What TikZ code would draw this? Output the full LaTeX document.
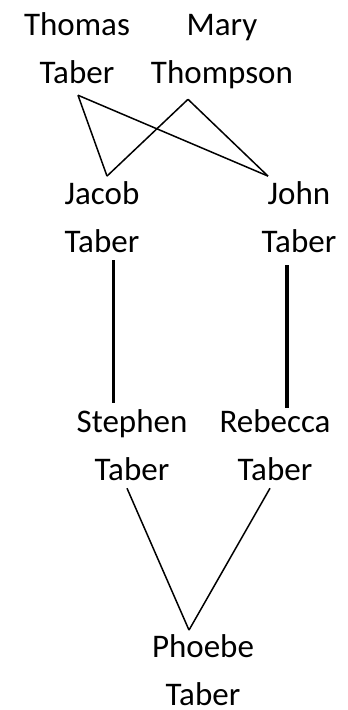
\documentclass[tikz,border=0pt]{standalone}
\usepackage{fontspec}
\setmainfont{Carlito}

\begin{document}
\begin{tikzpicture}[x=1pt,y=-1pt,
	person/.style={align=center,inner sep=0,outer sep=0,anchor=base,font=\fontsize{33}{48}\selectfont},
	link/.style={line width=1.5pt}]
	\useasboundingbox (0,0) rectangle (348,710);
	\node[person] (thomas) at (77,83) {Thomas\\Taber};
	\node[person] (mary) at (222,83) {Mary\\Thompson};
	\node[person] (jacob) at (102,252) {Jacob\\Taber};
	\node[person] (john) at (299,252) {John\\Taber};
	\node[person] (stephen) at (132,480) {Stephen\\Taber};
	\node[person] (rebecca) at (275,480) {Rebecca\\Taber};
	\node[person] (phoebe) at (203,705) {Phoebe\\Taber};
	\draw[link] ([shift={(1,12)}]thomas.south) -- ([shift={(5,-5)}]jacob.north);
	\draw[link] ([shift={(1,12)}]thomas.south) -- ([shift={(-31,-5)}]john.north);
	\draw[link] ([shift={(-34,11)}]mary.south) -- ([shift={(5,-5)}]jacob.north);
	\draw[link] ([shift={(-34,11)}]mary.south) -- ([shift={(-31,-5)}]john.north);
	\draw[line width=3pt] ([shift={(11,8)}]jacob.south) -- ([shift={(-19,-6)}]stephen.north);
	\draw[line width=4pt] ([shift={(-12,13)}]john.south) -- ([shift={(12,-1)}]rebecca.north);
	\draw[link] ([shift={(-5,8)}]stephen.south) -- ([shift={(-14,-4)}]phoebe.north);
	\draw[link] ([shift={(-5,8)}]rebecca.south) -- ([shift={(-14,-4)}]phoebe.north);
\end{tikzpicture}
\end{document}
